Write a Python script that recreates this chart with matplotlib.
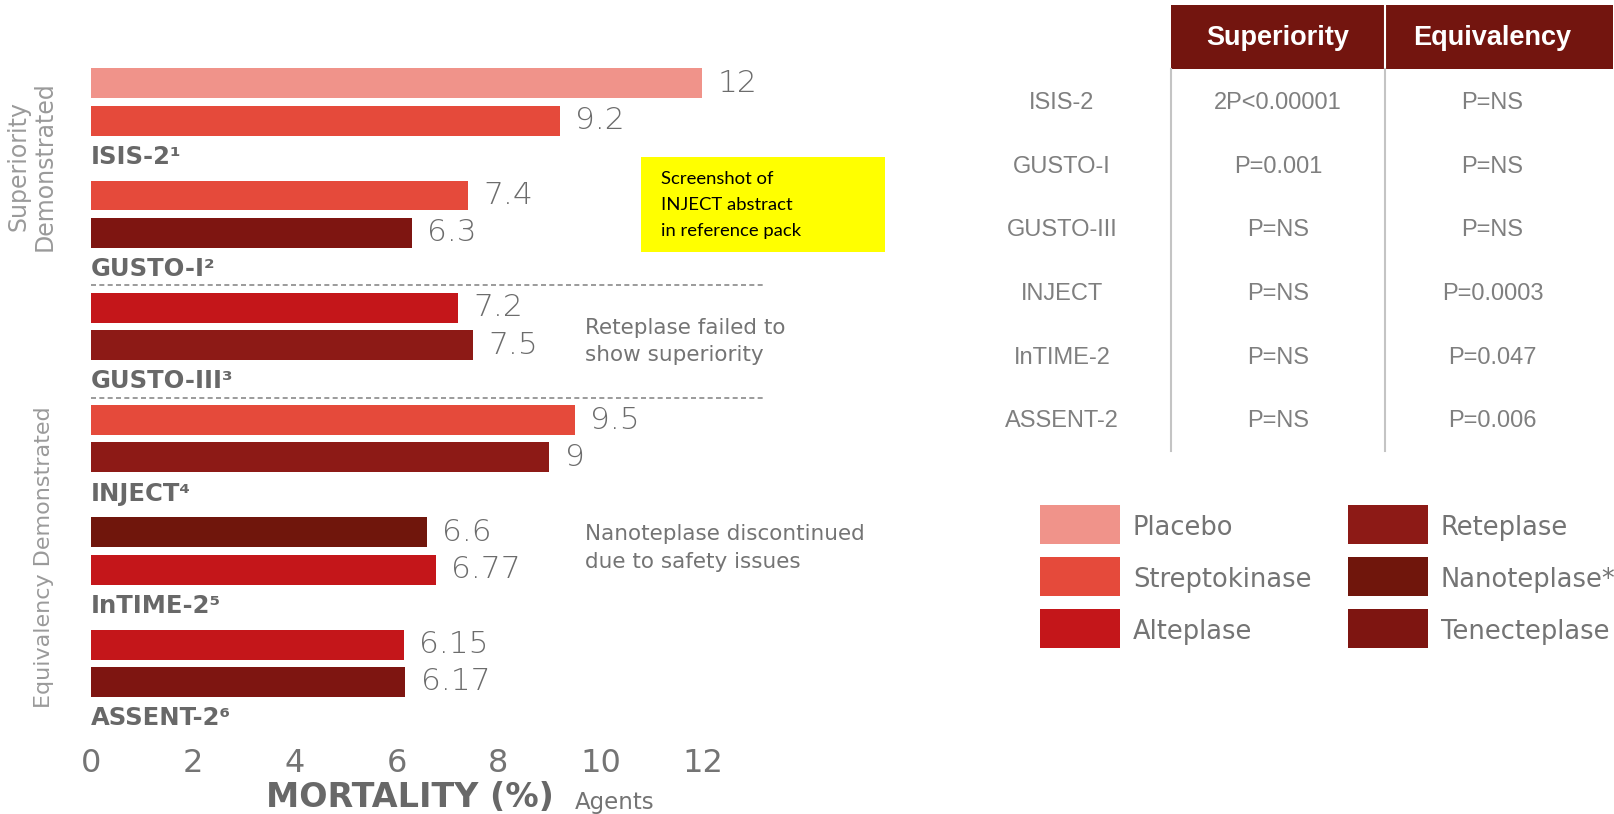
import matplotlib
matplotlib.use("Agg")
import matplotlib.pyplot as plt
from matplotlib.patches import Rectangle

# trial results: two agents per trial, mortality in %
trials = ["ISIS-2¹", "GUSTO-I²", "GUSTO-III³", "INJECT⁴", "InTIME-2⁵", "ASSENT-2⁶"]
first_agent = ["Placebo", "Streptokinase", "Alteplase", "Streptokinase", "Nanoteplase", "Alteplase"]
first_mortality = [12, 7.4, 7.2, 9.5, 6.6, 6.15]
second_agent = ["Streptokinase", "Tenecteplase", "Reteplase", "Reteplase", "Alteplase", "Tenecteplase"]
second_mortality = [9.2, 6.3, 7.5, 9, 6.77, 6.17]
first_labels = ["12", "7.4", "7.2", "9.5", "6.6", "6.15"]
second_labels = ["9.2", "6.3", "7.5", "9", "6.77", "6.17"]

agents = ["Placebo", "Streptokinase", "Alteplase", "Reteplase", "Nanoteplase*", "Tenecteplase"]
agent_colors = {
    "Placebo": "#f0938a",
    "Streptokinase": "#e54a3b",
    "Alteplase": "#c4161a",
    "Reteplase": "#8d1a16",
    "Nanoteplase": "#70160c",
    "Nanoteplase*": "#70160c",
    "Tenecteplase": "#7e1511",
}

table_rows = ["ISIS-2", "GUSTO-I", "GUSTO-III", "INJECT", "InTIME-2", "ASSENT-2"]
superiority = ["2P<0.00001", "P=0.001", "P=NS", "P=NS", "P=NS", "P=NS"]
equivalency = ["P=NS", "P=NS", "P=NS", "P=0.0003", "P=0.047", "P=0.006"]

W, H = 1568.0, 790.0
GREY = "#747474"
DARK_GREY = "#686868"
PX_PER_UNIT = 49.5


def fx(x):
    return x / W


def fy(y):
    return 1 - y / H


fig = plt.figure(figsize=(16.15, 8.14), dpi=100)
fig.patch.set_facecolor("white")

# bar chart, rows laid out top to bottom
ax = fig.add_axes([fx(88), fy(700), fx(88 + 12 * PX_PER_UNIT) - fx(88), fy(59) - fy(700)])
ax.set_xlim(0, 12)
ax.set_ylim(17.05, -0.6)
for s in ax.spines.values():
    s.set_visible(False)
ax.set_yticks([])
ax.set_xticks(range(0, 13, 2))
ax.tick_params(axis="x", length=0, pad=19, labelsize=23, labelcolor=GREY)

for i, name in enumerate(trials):
    y1 = 3 * i
    y2 = 3 * i + 1
    ax.barh(y1, first_mortality[i], height=0.8, color=agent_colors[first_agent[i]])
    ax.barh(y2, second_mortality[i], height=0.8, color=agent_colors[second_agent[i]])
    ax.text(first_mortality[i] + 0.3, y1, first_labels[i], va="center", ha="left",
            fontsize=22.5, color="#6c6c6c", fontweight="light", clip_on=False)
    ax.text(second_mortality[i] + 0.3, y2, second_labels[i], va="center", ha="left",
            fontsize=22.5, color="#6c6c6c", fontweight="light", clip_on=False)
    ax.text(0, y1 + 1.97, name, va="center", ha="left", fontsize=17.5,
            fontweight="bold", color=DARK_GREY, clip_on=False)

# dashed separators around GUSTO-III
for i in (2, 3):
    ax.plot([0, 654 / PX_PER_UNIT], [3 * i - 0.6, 3 * i - 0.6], ls=(0, (3, 2)), lw=1.2,
            color="#8a8a8a", clip_on=False)

ax.text(480 / PX_PER_UNIT, 6.9, "Reteplase failed to\nshow superiority", va="center",
        ha="left", fontsize=15.5, color=GREY, linespacing=1.45, clip_on=False)
ax.text(480 / PX_PER_UNIT, 12.42, "Nanoteplase discontinued\ndue to safety issues",
        va="center", ha="left", fontsize=15.5, color=GREY, linespacing=1.45,
        clip_on=False)

# group labels on the left
fig.text(fx(18), fy(161), "Superiority", rotation=90, ha="center", va="center",
         fontsize=17, color="#9a9a9a")
fig.text(fx(43), fy(161), "Demonstrated", rotation=90, ha="center", va="center",
         fontsize=17, color="#9a9a9a")
fig.text(fx(43), fy(541), "Equivalency Demonstrated", rotation=90, ha="center",
         va="center", fontsize=16, color="#9a9a9a")

fig.text(fx(398), fy(774), "MORTALITY (%)", ha="center", va="center",
         fontsize=24, fontweight="bold", color=DARK_GREY)
fig.text(fx(558), fy(779), "Agents", ha="left", va="center", fontsize=16.5,
         color=GREY)

# yellow note
fig.patches.append(Rectangle((fx(622), fy(245)), fx(859) - fx(622), fy(152) - fy(245),
                             transform=fig.transFigure, facecolor="#ffff00",
                             edgecolor="none"))
for k, line in enumerate(["Screenshot of", "INJECT abstract", "in reference pack"]):
    fig.text(fx(642), fy(174 + 25 * k), line, ha="left", va="center", fontsize=13.3,
             color="black", family="Lato")

# p-value table
fig.patches.append(Rectangle((fx(1137), fy(67)), fx(1566) - fx(1137), fy(5) - fy(67),
                             transform=fig.transFigure, facecolor="#73150f",
                             edgecolor="none"))
fig.lines.append(plt.Line2D([fx(1345), fx(1345)], [fy(67), fy(5)],
                            transform=fig.transFigure, color="white", lw=1.5))
for xx in (1137, 1345):
    fig.lines.append(plt.Line2D([fx(xx), fx(xx)], [fy(438), fy(67)],
                                transform=fig.transFigure, color="#c4c4c4", lw=1.5))
fig.text(fx(1241), fy(37), "Superiority", ha="center", va="center", fontsize=19.5,
         fontweight="bold", color="white", family="Liberation Sans")
fig.text(fx(1449), fy(37), "Equivalency", ha="center", va="center", fontsize=19.5,
         fontweight="bold", color="white", family="Liberation Sans")
for k in range(len(table_rows)):
    yy = fy(100 + 61.8 * k)
    for xx, txt in ((1031, table_rows[k]), (1241, superiority[k]), (1449, equivalency[k])):
        fig.text(fx(xx), yy, txt, ha="center", va="center", fontsize=17,
                 color="#7f7f7f", family="Liberation Sans")

# legend
for k, name in enumerate(agents):
    col, row = divmod(k, 3)
    px = 1010 + 299 * col
    top = 490 + 50.5 * row
    fig.patches.append(Rectangle((fx(px), fy(top + 38)), fx(77), 38 / H,
                                 transform=fig.transFigure,
                                 facecolor=agent_colors[name], edgecolor="none"))
    fig.text(fx(px + 90), fy(top + 22), name, ha="left", va="center", fontsize=18.5,
             color=GREY)

fig.savefig("out.png", dpi=100)
